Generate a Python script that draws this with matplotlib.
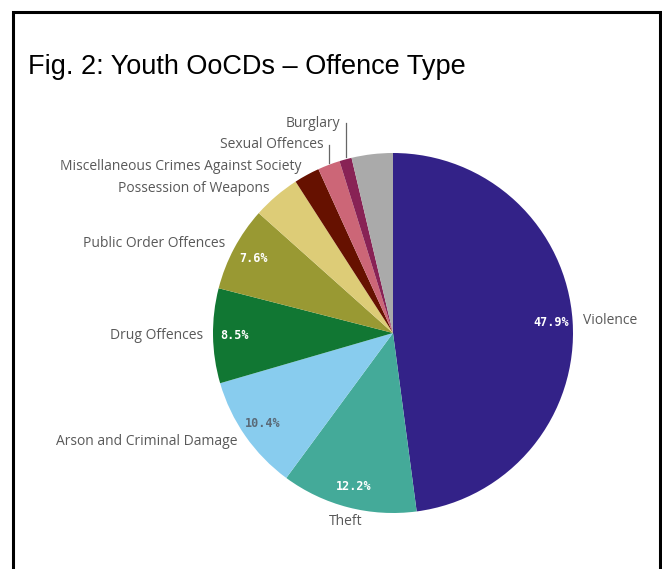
import numpy as np
import matplotlib
matplotlib.use("Agg")
import matplotlib.pyplot as plt
from matplotlib.lines import Line2D

categories = ["Violence", "Theft", "Arson and Criminal Damage", "Drug Offences",
              "Public Order Offences", "Possession of Weapons",
              "Miscellaneous Crimes Against Society", "Sexual Offences", "Burglary", ""]
values = [47.9, 12.2, 10.4, 8.5, 7.6, 4.3, 2.3, 2.0, 1.1, 3.7]
colors = ["#332288", "#44AA99", "#88CCEE", "#117733", "#999933", "#DDCC77",
          "#661100", "#CC6677", "#882255", "#AAAAAA"]
pct_colors = ["white", "white", "#5a6a78", "white", "white", "white",
              "white", "white", "white", "white"]
title = "Fig. 2: Youth OoCDs \u2013 Offence Type"

W, H = 662, 569
fig = plt.figure(figsize=(W / 100, H / 100), dpi=100)
fig.patch.set_facecolor("white")

def fx(x):
    return x / W

def fy(y):
    return 1 - y / H

# border (open at the bottom)
fig.add_artist(Line2D([fx(13), fx(13), fx(660), fx(660)],
                      [fy(H + 5), fy(12), fy(12), fy(H + 5)],
                      color="black", lw=2.2, transform=fig.transFigure,
                      solid_joinstyle="miter"))

fig.text(fx(28), fy(74), title, fontsize=19.5, family="Liberation Sans",
         va="baseline", ha="left", color="black")

ax = fig.add_axes([0, 0, 1, 1])
cx, cy, R = 393, H - 333, 180
wedges, _ = ax.pie(values, colors=colors, startangle=90, counterclock=False,
                   center=(cx, cy), radius=R, frame=True,
                   wedgeprops=dict(linewidth=0))
ax.set_xlim(0, W)
ax.set_ylim(0, H)
ax.set_aspect("equal")
ax.axis("off")

label_color = "#595959"
lab_font = dict(fontsize=10, family="Open Sans", color=label_color)
pct_font = dict(fontsize=8.5, family="DejaVu Sans Mono", fontweight="bold")

left_labels = []
for w, cat, v, pc in zip(wedges, categories, values, pct_colors):
    mid = np.deg2rad((w.theta1 + w.theta2) / 2)
    dx, dy = np.cos(mid), np.sin(mid)
    if v >= 7.5:
        ax.text(cx + 0.88 * R * dx, cy + 0.88 * R * dy, f"{v:.1f}%", color=pc,
                ha="center", va="center", **pct_font)
    if not cat:
        continue
    lx, ly = cx + (R + 10) * dx, cy + (R + 10) * dy
    if abs(dx) < 0.3 and dy < 0:
        ax.text(lx, ly - 4, cat, ha="center", va="center", **lab_font)
    elif dx > 0:
        ax.text(lx, ly, cat, ha="left", va="center", **lab_font)
    else:
        left_labels.append((ly, lx, cat, cx + R * dx, cy + R * dy))

# stack left labels avoiding overlap (bottom to top)
left_labels.sort()
prev = -1e9
gap = 21.5
for ly, lx, cat, ex, ey in left_labels:
    y = max(ly, prev + gap)
    if y - ly > 3:
        ax.plot([ex, ex], [ey + 2, y], color="#666666", lw=0.9)
        ax.text(ex - 5, y, cat, ha="right", va="center", **lab_font)
    else:
        ax.text(lx, y, cat, ha="right", va="center", **lab_font)
    prev = y

fig.savefig("out.png", dpi=100)
